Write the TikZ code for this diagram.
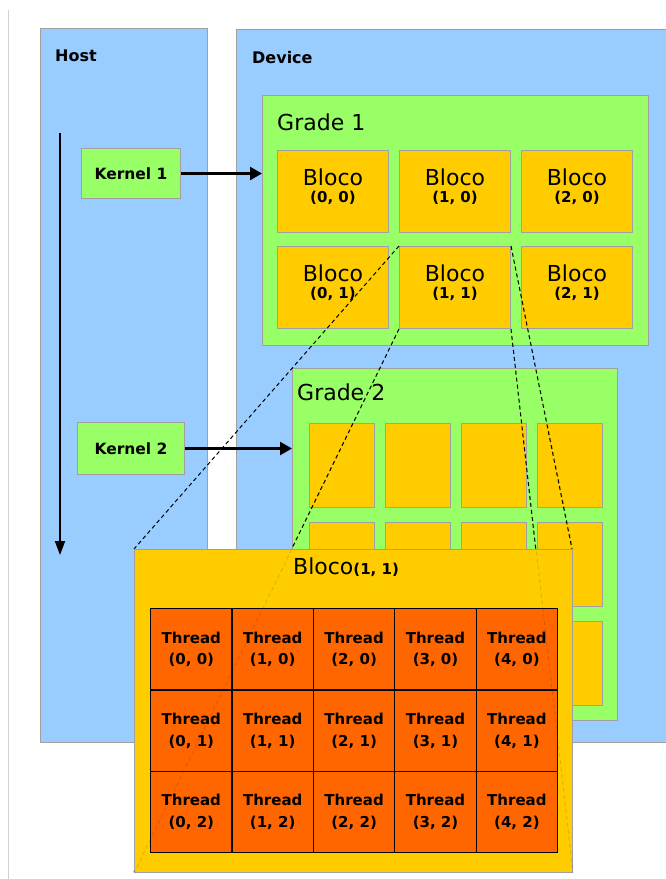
\documentclass[tikz,border=0pt]{standalone}
\usepackage{fontspec}
\setmainfont{DejaVu Sans}
\usetikzlibrary{arrows.meta,positioning}
\definecolor{hostblue}{HTML}{99CCFF}
\definecolor{gridgreen}{HTML}{99FF66}
\definecolor{blockyel}{HTML}{FFCC00}
\definecolor{threadorg}{HTML}{FF6600}
\definecolor{edge}{HTML}{A0A0A0}
\newcommand{\numfont}{\fontsize{15}{17}\selectfont\bfseries}

\begin{document}
\begin{tikzpicture}[x=1pt, y=-1pt,
  area/.style   = {rectangle, draw=edge, line width=1pt, fill=hostblue,
                   anchor=north west, inner sep=0pt},
  gridbox/.style = {area, fill=gridgreen},
  blk/.style    = {area, fill=blockyel, minimum width=111pt, minimum height=82pt,
                   align=center, text depth=12pt, font=\fontsize{22}{17}\selectfont},
  mini/.style   = {area, fill=blockyel, minimum width=65pt, minimum height=84pt},
  thr/.style    = {rectangle, draw=black, line width=1.2pt, fill=threadorg,
                   minimum width=81.4pt, minimum height=81.4pt, anchor=north west,
                   inner sep=0pt, align=center, font=\fontsize{15}{21.5}\selectfont\bfseries},
  kern/.style   = {area, fill=gridgreen, font=\fontsize{15.5}{17}\selectfont\bfseries},
  title/.style  = {anchor=base west, inner sep=0pt, font=\fontsize{16}{18}\selectfont\bfseries},
  gtitle/.style = {anchor=base west, inner sep=0pt, font=\fontsize{22}{24}\selectfont},
  arr/.style    = {-{Triangle[length=12pt,width=13pt]}, line width=2.5pt},
  link/.style   = {dash pattern=on 4pt off 3pt, line width=1pt},
]
  \useasboundingbox (0,0) rectangle (665,879);
  \draw[gray!35, line width=1pt] (8,10) -- (8,879);

  % host and device
  \node[area, minimum width=167pt, minimum height=714pt] (host) at (40,28) {};
  \node[area, minimum width=440pt, minimum height=713pt] (dev)  at (236,29) {};
  \node[title] (hostlbl) at (55,61) {Host};
  \node[title] (devlbl)  at (252,63) {Device};

  % grade 1
  \node[gridbox, minimum width=386pt, minimum height=250pt] (g1) at (262,95) {};
  \node[gtitle] (g1lbl) at (277,130) {Grade 1};
  \foreach \i in {0,1,2}
    \foreach \j in {0,1}
      \node[blk] (b\i\j) at ({277+122*\i},{150+96*\j}) {Bloco\\{\numfont(\i, \j)}};

  % grade 2
  \node[gridbox, minimum width=325pt, minimum height=352pt] (g2) at (292,368) {};
  \node[gtitle] (g2lbl) at (297,400) {Grade 2};
  \foreach \i in {0,...,3}
    \foreach \j in {0,1,2}
      \node[mini] (m\i\j) at ({308.5+76*\i},{423+99*\j}) {};

  % kernels
  \node[kern, minimum width=99pt, minimum height=50pt]  (k1) at (81,148) {Kernel 1};
  \node[kern, minimum width=107pt, minimum height=52pt] (k2) at (77,422) {Kernel 2};
  \coordinate (t0) at (60,133);
  \coordinate (t1) at (60,555);
  \draw[-{Triangle[length=14pt,width=10pt]}, line width=2pt] (t0) -- (t1);
  \draw[arr] (k1.east) -- (k1.east -| g1.west);
  \draw[arr] (k2.east) -- (k2.east -| g2.west);

  % zoom onto Bloco (1, 1)
  \coordinate (bignw) at (134,549);
  \coordinate (bigsw) at (134,872);
  \coordinate (bigne) at (572,549);
  \coordinate (bigse) at (572,872);
  \draw[link] (b11.north west) -- (bignw);
  \draw[link] (b11.south west) -- (bigsw);
  \draw[link] (b11.north east) -- (bigne);
  \draw[link] (b11.south east) -- (bigse);
  \node[area, fill=blockyel, minimum width=438pt, minimum height=323pt] (big) at (bignw) {};
  \node[gtitle] (biglbl) at (293,574.5) {Bloco{\numfont(1, 1)}};
  \foreach \i in {0,...,4}
    \foreach \j in {0,1,2}
      \node[thr] (t\i\j) at ({150+81.4*\i},{608+81.4*\j}) {Thread\\(\i, \j)};
  \begin{scope}[opacity=0.12]
    \draw[link] (b11.south west) -- (big.south west);
    \draw[link] (b11.north east) -- (big.north east);
    \draw[link] (b11.south east) -- (big.south east);
  \end{scope}
\end{tikzpicture}
\end{document}
